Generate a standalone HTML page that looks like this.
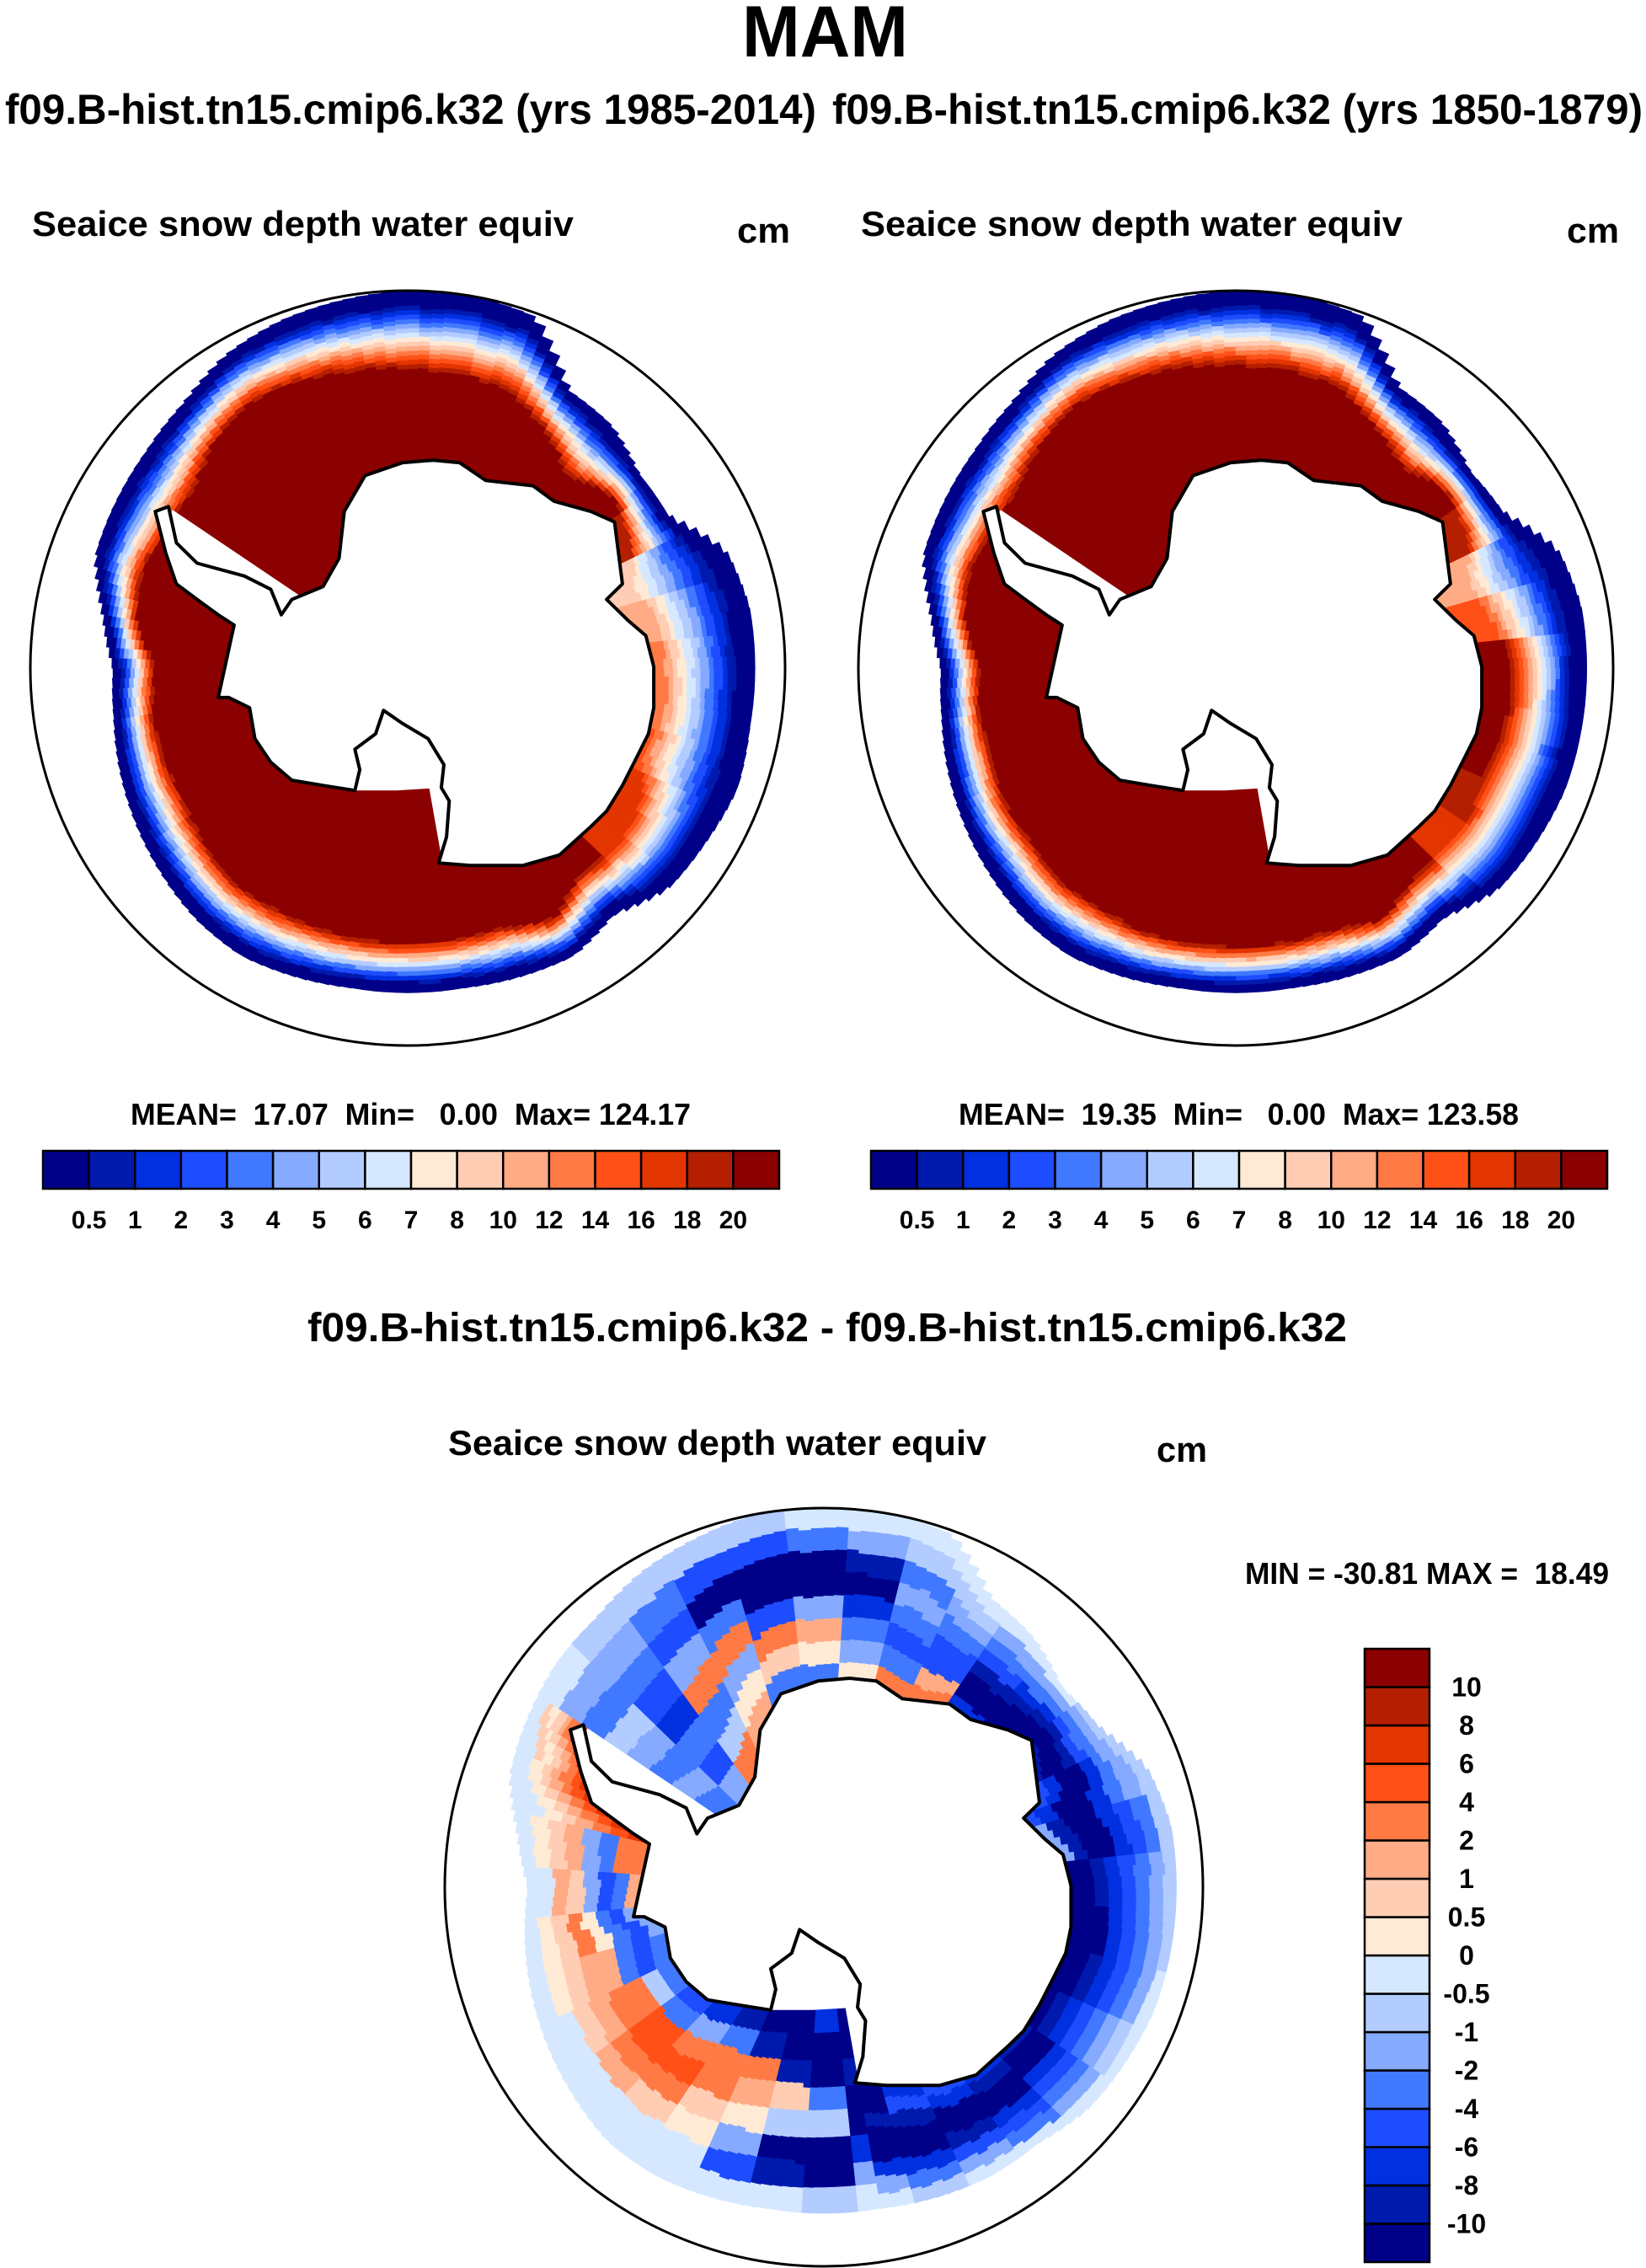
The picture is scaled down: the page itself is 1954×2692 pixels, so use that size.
<!DOCTYPE html>
<html><head><meta charset="utf-8"><title>MAM Seaice snow depth water equiv</title>
<style>html,body{margin:0;padding:0;background:#fff}svg{display:block}
text{font-family:"Liberation Sans",Arial,sans-serif;font-weight:bold;fill:#000}</style></head>
<body>
<svg id="fig" width="1954" height="2692" viewBox="0 0 1954 2692" xmlns="http://www.w3.org/2000/svg">
<text x="881" y="67" font-size="86" textLength="197" lengthAdjust="spacingAndGlyphs">MAM</text>
<text x="6" y="147" font-size="50" textLength="963" lengthAdjust="spacingAndGlyphs">f09.B-hist.tn15.cmip6.k32 (yrs 1985-2014)</text>
<text x="988" y="147" font-size="50" textLength="962" lengthAdjust="spacingAndGlyphs">f09.B-hist.tn15.cmip6.k32 (yrs 1850-1879)</text>
<text x="38" y="280" font-size="42" textLength="643" lengthAdjust="spacingAndGlyphs">Seaice snow depth water equiv</text>
<text x="875" y="288" font-size="42" textLength="63" lengthAdjust="spacingAndGlyphs">cm</text>
<text x="1022" y="280" font-size="42" textLength="643" lengthAdjust="spacingAndGlyphs">Seaice snow depth water equiv</text>
<text x="1860" y="288" font-size="42" textLength="62" lengthAdjust="spacingAndGlyphs">cm</text>
<text x="155" y="1335" font-size="36" textLength="665" lengthAdjust="spacingAndGlyphs" xml:space="preserve">MEAN=  17.07  Min=   0.00  Max= 124.17</text>
<text x="1138" y="1335" font-size="36" textLength="665" lengthAdjust="spacingAndGlyphs" xml:space="preserve">MEAN=  19.35  Min=   0.00  Max= 123.58</text>
<text x="365" y="1592" font-size="48" textLength="1234" lengthAdjust="spacingAndGlyphs">f09.B-hist.tn15.cmip6.k32 - f09.B-hist.tn15.cmip6.k32</text>
<text x="532" y="1727" font-size="42" textLength="639" lengthAdjust="spacingAndGlyphs">Seaice snow depth water equiv</text>
<text x="1373" y="1735" font-size="42" textLength="60" lengthAdjust="spacingAndGlyphs">cm</text>
<text x="1478" y="1880" font-size="36" textLength="432" lengthAdjust="spacingAndGlyphs" xml:space="preserve">MIN = -30.81 MAX =  18.49</text>
<g id="maps"></g>
<g id="bars"></g>
</svg>
<script>
const colors = ["#000089","#001aae","#0030e0","#1e4cff","#4079ff","#85aaff","#b3ccff","#d6e8ff","#ffead6","#ffcdb3","#ffab85","#ff7a45","#ff5018","#e33500","#b31f00","#8b0000"];
const absLabels = ["0.5","1","2","3","4","5","6","7","8","10","12","14","16","18","20"];
const diffLabels = ["-10","-8","-6","-4","-2","-1","-0.5","0","0.5","1","2","4","6","8","10"];
const sectorAngles = [0,10,20,30,40,50,60,70,80,90,100,110,120,130,140,150,160,170,180,190,200,210,220,230,240,250,260,270,280,290,300,310,320,330,340,350];
const leftEdge  = [.92,.92,.93,.915,.905,.85,.88,.87,.86,.86,.86,.87,.88,.87,.85,.83,.81,.79,.78,.82,.88,.89,.90,.92,.96,.98,.99,1.0,1.0,.99,.85,.84,.80,.80,.90,.92];
const leftInner = [.67,.68,.65,.70,.72,.70,.76,.72,.72,.72,.72,.72,.72,.72,.70,.68,.68,.68,.66,.72,.74,.72,.73,.78,.81,.80,.79,.78,.78,.77,.72,.65,.70,.67,.62,.66];
const leftPeak  = [11,11,12,13,13,15,15,15,15,15,15,15,15,15,15,15,15,15,15,15,15,15,15,15,15,15,15,15,15,15,15,15,15,14,9,10];
const rightEdge  = [.93,.93,.93,.92,.91,.86,.88,.87,.86,.86,.86,.87,.88,.87,.85,.83,.81,.79,.78,.82,.88,.89,.90,.92,.96,.98,.99,1.0,1.0,.99,.86,.85,.81,.82,.91,.93];
const rightInner = [.72,.72,.70,.72,.72,.72,.76,.73,.73,.73,.73,.73,.72,.72,.70,.70,.68,.68,.67,.72,.74,.73,.74,.78,.81,.80,.80,.79,.79,.78,.73,.68,.72,.70,.64,.68];
const rightPeak  = [15,15,15,14,13,15,15,15,15,15,15,15,15,15,15,15,15,15,15,15,15,15,15,15,15,15,15,15,15,15,15,15,15,14,10,12];
const diffEdge = [.93,.93,.93,.92,.91,.88,.88,.87,.86,.86,.86,.87,.88,.88,.86,.84,.82,.80,.78,.82,.88,.90,.92,.93,.96,.98,1.0,1.0,1.0,.99,.88,.86,.82,.84,.91,.93];
const diffProfile = [
[0,0,1,2,3,4,5,6],[0,0,0,2,3,4,5,6],[0,0,1,2,3,4,5,7],[0,1,2,3,4,5,6,7],
[1,0,0,2,3,4,5,7],[2,1,0,0,2,3,4,7],[3,2,0,0,1,3,5,7],[2,3,1,0,0,2,4,6],
[0,0,1,0,0,2,5,7],[2,0,0,4,6,0,0,6],[0,0,1,9,6,0,1,7],[0,1,11,10,8,5,3,7],
[1,4,11,11,9,8,7,7],[2,5,11,12,11,9,7,7],[3,4,12,12,11,10,7,7],[4,6,11,11,10,9,7,7],
[4,3,4,10,10,9,8,7],[5,3,4,8,11,9,8,7],[10,4,3,5,9,10,7,7],[11,11,4,5,10,9,8,7],
[13,12,11,10,9,8,7,7],[12,11,10,9,8,9,7,7],[4,5,4,5,6,4,5,7],[5,3,4,2,3,4,5,6],
[11,6,4,11,5,3,4,6],[10,8,5,11,4,0,3,6],[4,9,11,3,0,0,3,6],[4,8,10,5,0,0,4,7],
[8,5,4,2,0,1,5,7],[11,4,3,4,5,4,6,7],[11,10,3,3,4,5,6,7],[2,0,0,1,3,4,5,7],
[0,0,0,1,2,4,5,7],[1,0,0,1,3,4,5,6],[3,2,0,0,2,4,5,6],[5,1,0,0,2,3,4,6]];
const coast = [[-.634,-.428],[-.613,-.332],[-.558,-.278],[-.433,-.244],[-.363,-.209],[-.335,-.141],[-.307,-.182],[-.224,-.216],[-.182,-.291],[-.168,-.415],[-.113,-.510],[-.015,-.544],[.068,-.551],[.138,-.544],[.207,-.497],[.332,-.483],[.388,-.442],[.485,-.415],[.548,-.387],[.569,-.223],[.527,-.182],[.583,-.127],[.631,-.086],[.652,-.004],[.652,.105],[.638,.174],[.604,.242],[.569,.311],[.527,.379],[.485,.420],[.402,.495],[.305,.523],[.166,.523],[.082,.516],[.103,.447],[.110,.352],[.089,.317],[.096,.256],[.054,.187],[-.015,.146],[-.064,.112],[-.085,.174],[-.140,.215],[-.127,.269],[-.140,.324],[-.224,.311],[-.307,.297],[-.363,.249],[-.405,.187],[-.419,.105],[-.474,.078],[-.502,.078],[-.481,-.018],[-.460,-.114],[-.502,-.141],[-.558,-.182],[-.613,-.223],[-.641,-.305],[-.669,-.415]];
const shelf = [[-.064,.112],[.054,.187],[.096,.256],[.089,.317],[-.029,.324],[-.140,.324],[-.127,.269],[-.140,.215],[-.085,.174]];

const NS="http://www.w3.org/2000/svg";
const maps=document.getElementById('maps'), bars=document.getElementById('bars');
function mk(tag,attrs,parent){const e=document.createElementNS(NS,tag);for(const k in attrs)e.setAttribute(k,attrs[k]);parent.appendChild(e);return e;}

function rayMax(poly,a){
  const dx=Math.cos(a),dy=Math.sin(a);let best=0;
  for(let i=0;i<poly.length;i++){
    const p=poly[i],q=poly[(i+1)%poly.length];const ex=q[0]-p[0],ey=q[1]-p[1];
    const den=dx*ey-dy*ex; if(Math.abs(den)<1e-9)continue;
    const t=(p[0]*ey-p[1]*ex)/den, s=(p[0]*dy-p[1]*dx)/den;
    if(s>=0&&s<=1&&t>0&&t>best)best=t;
  }
  return best;
}
function interp(arr,deg){
  const f=((deg%360)+360)%360/10, i=Math.floor(f)%36, j=(i+1)%36, w=f-Math.floor(f);
  return arr[i]*(1-w)+arr[j]*w;
}
function wedge(g,cx,cy,R,a0,a1,r0,r1,lvl){
  const p=(a,r)=>(cx+Math.cos(a)*r*R).toFixed(1)+','+(cy+Math.sin(a)*r*R).toFixed(1);
  const el=mk('polygon',{points:[p(a0,r0),p(a0,r1),p(a1,r1),p(a1,r0)].join(' '),fill:colors[lvl],stroke:colors[lvl],'stroke-width':'0.8'},g);
  
  
}
function drawMap(name,cx,cy,R,levelAt){
  const g=mk('g',{},maps);
  
  
  const step=2, dr=0.012;
  for(let d=0; d<360; d+=step){
    const a0=d*Math.PI/180, a1=(d+step)*Math.PI/180, am=(d+step/2)*Math.PI/180;
    const c=Math.max(rayMax(coast,am),rayMax(shelf,am))*0.97;
    const res=levelAt(d+step/2,c);
    let start=c, cur=null;
    for(let r=c; r<res.edge; r+=dr){
      const L=res.level(r);
      if(L!==cur){ if(cur!==null) wedge(g,cx,cy,R,a0,a1,start,r,cur); cur=L; start=r; }
    }
    if(cur!==null) wedge(g,cx,cy,R,a0,a1,start,res.edge,cur);
  }
  const toPts=poly=>poly.map(p=>(cx+p[0]*R).toFixed(1)+','+(cy+p[1]*R).toFixed(1)).join(' ');
  const sh=mk('polygon',{points:toPts(shelf),fill:'#fff',stroke:'none'},g);
  
  
  const land=mk('polygon',{points:toPts(coast),fill:'#fff',stroke:'#000','stroke-width':'4','stroke-linejoin':'round'},g);
  
  
  const circ=mk('circle',{cx:cx,cy:cy,r:R,fill:'none',stroke:'#000','stroke-width':'3'},g);
  
  
}
function absField(edgeA,innerA,peakA){
  return (deg,c)=>{
    const e=interp(edgeA,deg), inn=interp(innerA,deg);
    const pk=peakA[Math.round(deg/10)%36];
    return {edge:e, level:r=>{const t=(r-inn)/(e-inn); if(t<0)return pk; return Math.max(0,Math.min(pk,Math.round(pk*(0.8-t)/0.8)));}};
  };
}
drawMap('left-map',484,793,448,absField(leftEdge,leftInner,leftPeak));
drawMap('right-map',1467,793,448,absField(rightEdge,rightInner,rightPeak));
drawMap('diff-map',978,2240,450,(deg,c)=>{
  const e=interp(diffEdge,deg), prof=diffProfile[Math.round(deg/10)%36];
  return {edge:e, level:r=>prof[Math.max(0,Math.min(7,Math.floor((r-c)/(e-c)*8)))]};
});

function hBar(name,x0,x1,y0,y1,labels){
  const g=mk('g',{},bars);
  
  
  const w=(x1-x0)/colors.length;
  colors.forEach((c,i)=>{
    const r=mk('rect',{x:x0+i*w,y:y0,width:w,height:y1-y0,fill:c,stroke:'#000','stroke-width':'2.5'},g);
    
    
  });
  labels.forEach((t,i)=>{
    const tx=mk('text',{x:x0+(i+1)*w,y:1458,'font-size':'30','text-anchor':'middle'},g);
    tx.textContent=t;
    
    
  });
}
hBar('left-colorbar',51,925,1366,1411,absLabels);
hBar('right-colorbar',1034,1908,1366,1411,absLabels);
(function(){
  const g=mk('g',{},bars);
  
  
  const y0=1957,y1=2685,x0=1620,x1=1697,h=(y1-y0)/colors.length;
  colors.forEach((c,i)=>{
    const r=mk('rect',{x:x0,y:y1-(i+1)*h,width:x1-x0,height:h,fill:c,stroke:'#000','stroke-width':'2.5'},g);
    
    
  });
  diffLabels.forEach((t,i)=>{
    const tx=mk('text',{x:1741,y:y1-(i+1)*h+11,'font-size':'32','text-anchor':'middle'},g);
    tx.textContent=t;
    
    
  });
})();
</script>
</body></html>
